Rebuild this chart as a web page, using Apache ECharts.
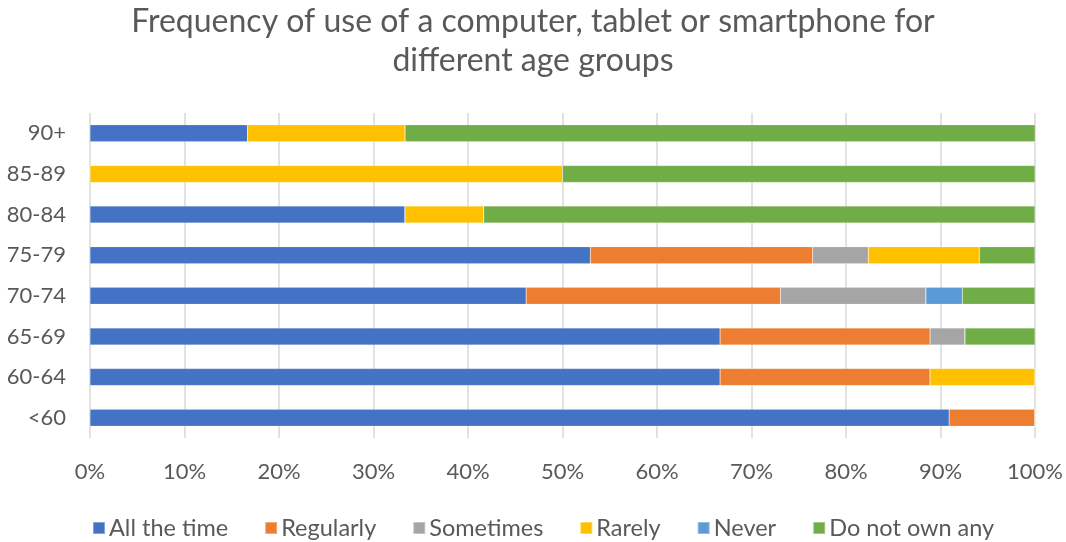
<!DOCTYPE html>
<html>
<head>
<meta charset="utf-8">
<script src="https://cdn.jsdelivr.net/npm/echarts@6/dist/echarts.min.js"></script>
<style>
  html, body { margin: 0; padding: 0; background: #fff; }
  #chart { width: 1066px; height: 542px; }
</style>
</head>
<body>
<div id="chart"></div>
<script>
// Age groups, bottom to top
const ageGroups = ['<60', '60-64', '65-69', '70-74', '75-79', '80-84', '85-89', '90+'];

// Share of respondents (%) per age group
const allTheTime = [90.91, 66.67, 66.67, 46.15, 52.94, 33.33, 0, 16.67];
const regularly  = [9.09, 22.22, 22.22, 26.92, 23.53, 0, 0, 0];
const sometimes  = [0, 0, 3.70, 15.38, 5.88, 0, 0, 0];
const rarely     = [0, 11.11, 0, 0, 11.76, 8.33, 50, 16.67];
const never      = [0, 0, 0, 3.85, 0, 0, 0, 0];
const doNotOwn   = [0, 0, 7.41, 7.69, 5.88, 58.33, 50, 66.67];

const seriesNames = ['All the time', 'Regularly', 'Sometimes', 'Rarely', 'Never', 'Do not own any'];
const seriesData = [allTheTime, regularly, sometimes, rarely, never, doNotOwn];
const colors = ['#4472C4', '#ED7D31', '#A5A5A5', '#FFC000', '#5B9BD5', '#70AD47'];

const FONT = 'Lato, "Open Sans", sans-serif';
const TEXT = '#595959';

const chart = echarts.init(document.getElementById('chart'), null, { renderer: 'canvas' });

chart.setOption({
  animation: false,
  color: colors,
  title: {
    text: 'Frequency of use of a computer, tablet or smartphone for\ndifferent age groups',
    left: 'center',
    top: -3,
    textStyle: {
      fontFamily: FONT,
      fontSize: 32,
      fontWeight: 'normal',
      color: TEXT,
      lineHeight: 39,
      align: 'center'
    }
  },
  legend: {
    bottom: -3,
    left: 87,
    icon: 'rect',
    itemWidth: 12,
    itemHeight: 12,
    itemGap: 36,
    textStyle: { fontFamily: FONT, fontSize: 23.5, color: TEXT, padding: [0, 0, 0, -1] },
    data: seriesNames
  },
  grid: { left: 90, right: 30, top: 113, bottom: 104, containLabel: false },
  xAxis: {
    type: 'value',
    min: 0,
    max: 100,
    interval: 10,
    axisLine: { show: false },
    axisTick: { show: false },
    splitLine: { show: true, lineStyle: { color: '#D9D9D9', width: 1.5 } },
    axisLabel: {
      formatter: '{value}%',
      fontFamily: FONT,
      fontSize: 22,
      color: TEXT,
      margin: 23
    }
  },
  yAxis: {
    type: 'category',
    data: ageGroups,
    axisLine: { show: false },
    axisTick: { show: false },
    axisLabel: {
      fontFamily: FONT,
      fontSize: 22,
      color: TEXT,
      margin: 24
    }
  },
  series: seriesNames.map((name, i) => ({
    name,
    type: 'bar',
    stack: 'total',
    barWidth: 17,
    data: seriesData[i],
    itemStyle: { borderColor: 'rgba(255,255,255,0.35)', borderWidth: 0.5 }
  }))
});
</script>
</body>
</html>
